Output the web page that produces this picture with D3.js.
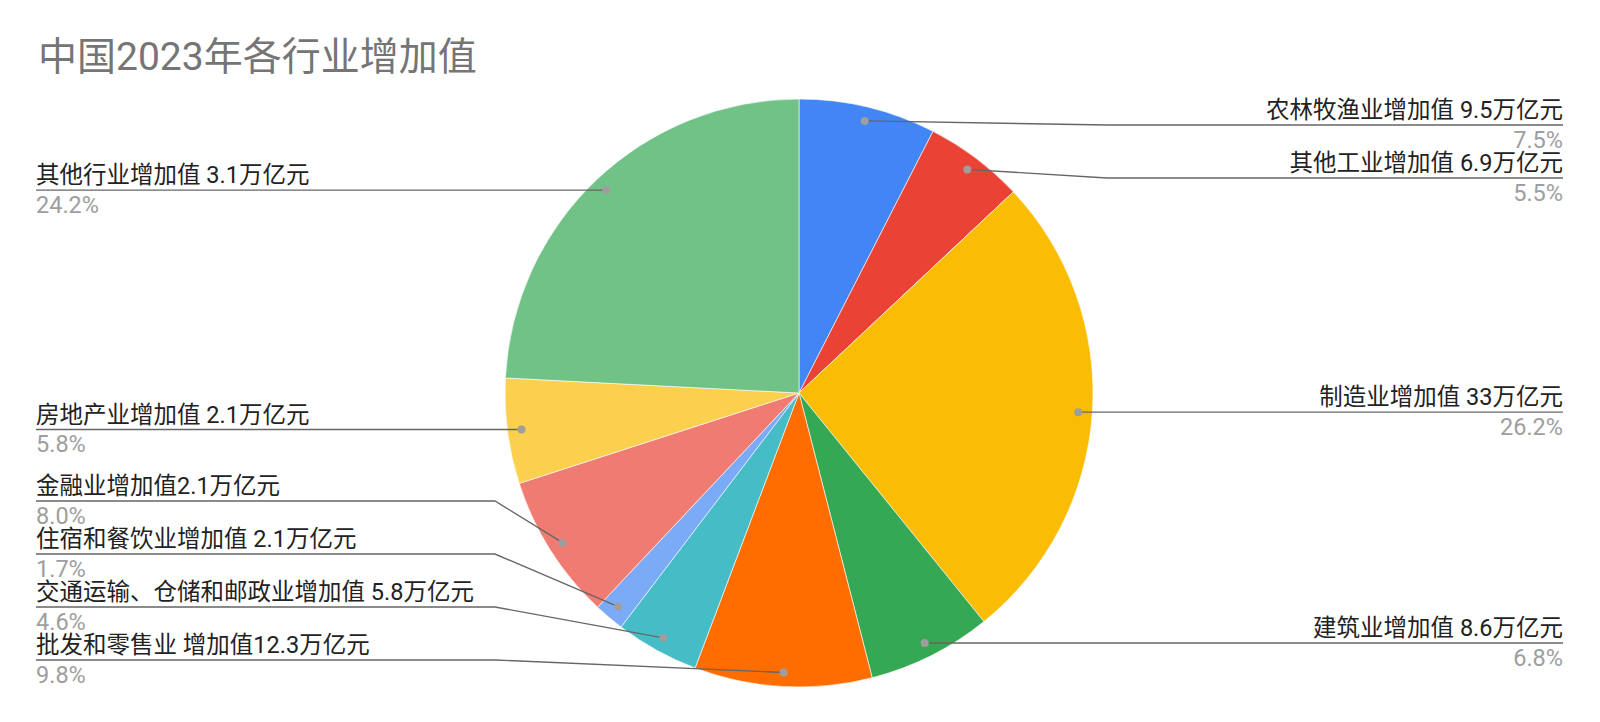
<!DOCTYPE html>
<html>
<head>
<meta charset="utf-8">
<script src="https://cdn.jsdelivr.net/npm/d3@7"></script>
<style>
  body { margin: 0; background: #fff; }
  text { font-family: Roboto, "Noto Sans CJK SC", sans-serif; }
</style>
</head>
<body>
<script>
// 类别与数值（百分比由数值计算）
var categories = [
  '农林牧渔业增加值 9.5万亿元',
  '其他工业增加值 6.9万亿元',
  '制造业增加值 33万亿元',
  '建筑业增加值 8.6万亿元',
  '批发和零售业 增加值12.3万亿元',
  '交通运输、仓储和邮政业增加值 5.8万亿元',
  '住宿和餐饮业增加值 2.1万亿元',
  '金融业增加值2.1万亿元',
  '房地产业增加值 2.1万亿元',
  '其他行业增加值 3.1万亿元'
];
var values = [9.5, 6.9, 33, 8.6, 12.3, 5.8, 2.1, 10.1, 7.3, 30.5];
var colors = ['#4285f4', '#ea4335', '#fbbc04', '#34a853', '#ff6d01',
              '#46bdc6', '#7baaf7', '#f07b72', '#fcd04f', '#71c287'];

var width = 1600, height = 722;
var cx = 799, cy = 393, radius = 294;

var svg = d3.select('body')
            .append('svg')
            .attr('width', width)
            .attr('height', height);

svg.append('text')
    .attr('x', 38)
    .attr('y', 70)
    .attr('font-size', 39)
    .attr('fill', '#757575')
    .text('中国2023年各行业增加值');

var pie = d3.pie().sort(null).value(function (d) { return d; });
var arcs = pie(values);
var total = d3.sum(values);
var pct = d3.format('.1%');

var arc = d3.arc().innerRadius(0).outerRadius(radius);

var g = svg.append('g').attr('transform', 'translate(' + cx + ',' + cy + ')');
g.selectAll('path')
    .data(arcs)
    .enter()
    .append('path')
    .attr('d', arc)
    .attr('fill', function (d, i) { return colors[i]; })
    .attr('stroke', '#fff')
    .attr('stroke-width', 0.6);

// 标签位置
var dotR = radius * 0.952;
var labels = arcs.map(function (d, i) {
    var a = (d.startAngle + d.endAngle) / 2;
    var x = cx + Math.sin(a) * dotR;
    var y = cy - Math.cos(a) * dotR;
    return { i: i, x: x, y: y, right: x > cx, ly: y };
});

function layout(list) {
    var gap = 53, minY = 125, maxY = 660;
    list.sort(function (a, b) { return a.y - b.y; });
    var prev = -Infinity;
    list.forEach(function (l) {
        l.ly = Math.max(l.y, prev + gap, minY);
        prev = l.ly;
    });
    var next = Infinity;
    for (var k = list.length - 1; k >= 0; k--) {
        list[k].ly = Math.min(list[k].ly, next - gap, maxY);
        next = list[k].ly;
    }
}
layout(labels.filter(function (l) { return l.right; }));
layout(labels.filter(function (l) { return !l.right; }));

var leftX = 36, rightX = 1563;
var elbowL = cx - radius - 10, elbowR = cx + radius + 14;

var lg = svg.append('g');
lg.selectAll('path')
    .data(labels)
    .enter()
    .append('path')
    .attr('d', function (l) {
        if (l.right) {
            return 'M' + rightX + ',' + l.ly + 'L' + elbowR + ',' + l.ly + 'L' + l.x + ',' + l.y;
        }
        return 'M' + leftX + ',' + l.ly + 'L' + elbowL + ',' + l.ly + 'L' + l.x + ',' + l.y;
    })
    .attr('fill', 'none')
    .attr('stroke', '#666')
    .attr('stroke-width', 1.4);

lg.selectAll('circle')
    .data(labels)
    .enter()
    .append('circle')
    .attr('cx', function (l) { return l.x; })
    .attr('cy', function (l) { return l.y; })
    .attr('r', 4)
    .attr('fill', '#9e9e9e');

lg.selectAll('text.name')
    .data(labels)
    .enter()
    .append('text')
    .attr('class', 'name')
    .attr('x', function (l) { return l.right ? rightX : leftX; })
    .attr('y', function (l) { return l.ly - 7; })
    .attr('text-anchor', function (l) { return l.right ? 'end' : 'start'; })
    .attr('font-size', 23.5)
    .attr('fill', '#222')
    .text(function (l) { return categories[l.i]; });

lg.selectAll('text.pct')
    .data(labels)
    .enter()
    .append('text')
    .attr('class', 'pct')
    .attr('x', function (l) { return l.right ? rightX : leftX; })
    .attr('y', function (l) { return l.ly + 22.5; })
    .attr('text-anchor', function (l) { return l.right ? 'end' : 'start'; })
    .attr('font-size', 23.5)
    .attr('fill', '#9e9e9e')
    .text(function (l) { return pct(values[l.i] / total); });
</script>
</body>
</html>
